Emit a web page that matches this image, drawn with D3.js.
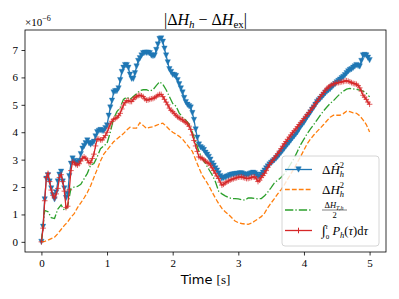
<!DOCTYPE html>
<html lang="en">
  <head>
    <meta charset="utf-8">
    <title>Energy error - D3</title>
    <style>
      body { margin: 0; background: #fff; }
      text { font-family: "Liberation Serif", "DejaVu Serif", serif; fill: #000; }
    </style>
  </head>

  <body>
    <div id="dataviz_area"></div>
  </body>
  <script src="https://d3js.org/d3.v7.min.js"></script>

  <script>
    // fine time grid [s] for the two marker series
    var timeFine = [0, 0.025, 0.05, 0.075, 0.1, 0.125, 0.15, 0.175, 0.2, 0.225,
      0.25, 0.275, 0.3, 0.325, 0.35, 0.375, 0.4, 0.425, 0.45, 0.475,
      0.5, 0.525, 0.55, 0.575, 0.6, 0.625, 0.65, 0.675, 0.7, 0.725,
      0.75, 0.775, 0.8, 0.825, 0.85, 0.875, 0.9, 0.925, 0.95, 0.975,
      1, 1.025, 1.05, 1.075, 1.1, 1.125, 1.15, 1.175, 1.2, 1.225,
      1.25, 1.275, 1.3, 1.325, 1.35, 1.375, 1.4, 1.425, 1.45, 1.475,
      1.5, 1.525, 1.55, 1.575, 1.6, 1.625, 1.65, 1.675, 1.7, 1.725,
      1.75, 1.775, 1.8, 1.825, 1.85, 1.875, 1.9, 1.925, 1.95, 1.975,
      2, 2.025, 2.05, 2.075, 2.1, 2.125, 2.15, 2.175, 2.2, 2.225,
      2.25, 2.275, 2.3, 2.325, 2.35, 2.375, 2.4, 2.425, 2.45, 2.475,
      2.5, 2.525, 2.55, 2.575, 2.6, 2.625, 2.65, 2.675, 2.7, 2.725,
      2.75, 2.775, 2.8, 2.825, 2.85, 2.875, 2.9, 2.925, 2.95, 2.975,
      3, 3.025, 3.05, 3.075, 3.1, 3.125, 3.15, 3.175, 3.2, 3.225,
      3.25, 3.275, 3.3, 3.325, 3.35, 3.375, 3.4, 3.425, 3.45, 3.475,
      3.5, 3.525, 3.55, 3.575, 3.6, 3.625, 3.65, 3.675, 3.7, 3.725,
      3.75, 3.775, 3.8, 3.825, 3.85, 3.875, 3.9, 3.925, 3.95, 3.975,
      4, 4.025, 4.05, 4.075, 4.1, 4.125, 4.15, 4.175, 4.2, 4.225,
      4.25, 4.275, 4.3, 4.325, 4.35, 4.375, 4.4, 4.425, 4.45, 4.475,
      4.5, 4.525, 4.55, 4.575, 4.6, 4.625, 4.65, 4.675, 4.7, 4.725,
      4.75, 4.775, 4.8, 4.825, 4.85, 4.875, 4.9, 4.925, 4.95, 4.975, 5]

    // coarse time grid [s] for the two plain lines
    var timeCoarse = [0, 0.05, 0.1, 0.15, 0.2, 0.25, 0.3, 0.35, 0.4, 0.45,
      0.5, 0.55, 0.6, 0.65, 0.7, 0.75, 0.8, 0.85, 0.9, 0.95,
      1, 1.05, 1.1, 1.15, 1.2, 1.25, 1.3, 1.35, 1.4, 1.45,
      1.5, 1.55, 1.6, 1.65, 1.7, 1.75, 1.8, 1.85, 1.9, 1.95,
      2, 2.05, 2.1, 2.15, 2.2, 2.25, 2.3, 2.35, 2.4, 2.45,
      2.5, 2.55, 2.6, 2.65, 2.7, 2.75, 2.8, 2.85, 2.9, 2.95,
      3, 3.05, 3.1, 3.15, 3.2, 3.25, 3.3, 3.35, 3.4, 3.45,
      3.5, 3.55, 3.6, 3.65, 3.7, 3.75, 3.8, 3.85, 3.9, 3.95,
      4, 4.05, 4.1, 4.15, 4.2, 4.25, 4.3, 4.35, 4.4, 4.45,
      4.5, 4.55, 4.6, 4.65, 4.7, 4.75, 4.8, 4.85, 4.9, 4.95, 5]

    // all values in units of 1e-6
    var dHhat2 = [0, 0.55, 1.55, 2.3, 2.43, 2.2, 1.95, 1.7, 1.55, 1.8,
      2.2, 2.45, 2.56, 2.2, 1.95, 1.6, 1.75, 2.4, 2.85, 3.04,
      2.95, 2.85, 2.9, 2.95, 3.2, 3.4, 3.5, 3.6, 3.7, 3.6,
      3.55, 3.6, 3.65, 3.85, 4.0, 4.05, 4.08, 4.05, 4.05, 4.15,
      4.25, 4.6, 4.9, 5.15, 5.45, 5.5, 5.5, 5.6, 5.9, 6.2,
      6.35, 6.45, 6.45, 6.35, 6.1, 5.95, 5.95, 6.15, 6.4, 6.6,
      6.7, 6.8, 6.88, 6.9, 6.9, 6.9, 6.88, 6.8, 6.78, 6.8,
      7.0, 7.2, 7.4, 7.42, 7.3, 7.05, 6.8, 6.55, 6.3, 6.2,
      6.1, 6.08, 6.05, 5.9, 5.75, 5.6, 5.45, 5.25, 5.1, 5.0,
      4.95, 4.9, 4.7, 4.45, 4.1, 3.8, 3.55, 3.45, 3.41, 3.35,
      3.25, 3.18, 3.1, 3.0, 2.86, 2.78, 2.68, 2.6, 2.5, 2.4,
      2.31, 2.33, 2.35, 2.38, 2.4, 2.43, 2.45, 2.46, 2.47, 2.48,
      2.48, 2.5, 2.5, 2.47, 2.45, 2.44, 2.45, 2.48, 2.5, 2.52,
      2.5, 2.45, 2.38, 2.4, 2.45, 2.52, 2.6, 2.68, 2.75, 2.82,
      2.88, 2.93, 2.98, 3.04, 3.1, 3.18, 3.25, 3.32, 3.4, 3.48,
      3.55, 3.62, 3.7, 3.78, 3.85, 3.92, 4.0, 4.1, 4.2, 4.28,
      4.35, 4.45, 4.55, 4.63, 4.72, 4.82, 4.9, 5.0, 5.1, 5.16,
      5.22, 5.28, 5.35, 5.42, 5.48, 5.53, 5.58, 5.64, 5.7, 5.76,
      5.82, 5.87, 5.92, 5.97, 6.02, 6.08, 6.15, 6.22, 6.27, 6.3,
      6.35, 6.4, 6.45, 6.42, 6.4, 6.6, 6.8, 6.82, 6.8, 6.72, 6.63]

    var intP = [0, 0.5, 1.5, 2.35, 2.5, 2.2, 1.89, 1.7, 1.6, 1.75,
      1.95, 2.35, 2.45, 2.2, 1.85, 1.25, 1.3, 1.9, 2.6, 2.92,
      2.88, 2.82, 2.8, 2.85, 2.95, 3.05, 3.1, 3.05, 2.98, 2.88,
      2.9, 3.04, 3.2, 3.5, 3.75, 3.75, 3.72, 3.72, 3.8, 3.88,
      4.0, 4.15, 4.3, 4.4, 4.47, 4.5, 4.54, 4.6, 4.69, 4.85,
      4.99, 5.08, 5.15, 5.15, 5.12, 5.12, 5.2, 5.26, 5.3, 5.34,
      5.35, 5.33, 5.3, 5.22, 5.17, 5.18, 5.2, 5.22, 5.23, 5.26,
      5.3, 5.35, 5.38, 5.38, 5.3, 5.2, 5.1, 5.0, 4.88, 4.8,
      4.75, 4.68, 4.62, 4.56, 4.52, 4.48, 4.45, 4.4, 4.36, 4.3,
      4.22, 4.1, 3.9, 3.7, 3.5, 3.3, 3.1, 3.07, 3.05, 3.0,
      2.95, 2.9, 2.86, 2.8, 2.7, 2.6, 2.5, 2.4, 2.31, 2.18,
      2.07, 2.1, 2.15, 2.19, 2.22, 2.25, 2.28, 2.3, 2.32, 2.34,
      2.36, 2.37, 2.37, 2.35, 2.33, 2.31, 2.31, 2.33, 2.35, 2.37,
      2.37, 2.3, 2.2, 2.25, 2.35, 2.42, 2.5, 2.6, 2.72, 2.82,
      2.9, 2.98, 3.06, 3.14, 3.22, 3.31, 3.4, 3.49, 3.58, 3.66,
      3.74, 3.82, 3.9, 3.98, 4.05, 4.12, 4.2, 4.28, 4.35, 4.42,
      4.5, 4.58, 4.65, 4.72, 4.8, 4.88, 4.95, 5.04, 5.12, 5.21,
      5.3, 5.38, 5.45, 5.53, 5.6, 5.65, 5.7, 5.73, 5.76, 5.78,
      5.8, 5.81, 5.82, 5.84, 5.85, 5.87, 5.88, 5.86, 5.84, 5.81,
      5.78, 5.77, 5.75, 5.7, 5.62, 5.5, 5.35, 5.28, 5.2, 5.1, 5.02]

    var dH2 = [0, 0.02, 0.06, 0.12, 0.17, 0.3, 0.45, 0.6, 0.72, 0.9,
      1.03, 1.25, 1.42, 1.6, 1.8, 2.05, 2.35, 2.65, 2.95, 3.2,
      3.35, 3.5, 3.65, 3.75, 3.85, 3.95, 4.08, 4.18, 4.15, 4.15,
      4.35, 4.25, 4.14, 4.18, 4.2, 4.25, 4.3, 4.33, 4.22, 4.1,
      4.0, 3.93, 3.85, 3.75, 3.6, 3.45, 3.3, 3.0, 2.7, 2.43,
      2.25, 2.05, 1.82, 1.6, 1.4, 1.22, 1.1, 1.0, 0.88, 0.76,
      0.7, 0.67, 0.65, 0.64, 0.68, 0.76, 0.84, 0.92, 1.05, 1.25,
      1.42, 1.58, 1.75, 1.9, 2.08, 2.28, 2.48, 2.68, 2.9, 3.12,
      3.35, 3.58, 3.75, 3.9, 4.03, 4.15, 4.28, 4.42, 4.55, 4.62,
      4.62, 4.62, 4.68, 4.77, 4.75, 4.71, 4.69, 4.6, 4.45, 4.28, 4.01]

    var dHT_half = [0, 1.15, 1.1, 0.88, 0.85, 1.2, 1.35, 1.15, 1.3, 1.95,
      2.0, 2.02, 2.1, 2.3, 2.5, 2.8, 2.86, 3.1, 3.4, 3.5,
      3.6, 4.0, 4.5, 4.75, 4.9, 5.2, 5.28, 5.2, 5.3, 5.4,
      5.52, 5.55, 5.55, 5.5, 5.55, 5.7, 5.84, 5.75, 5.55, 5.3,
      5.05, 4.95, 4.7, 4.55, 4.44, 4.3, 4.0, 3.65, 3.3, 3.04,
      2.85, 2.65, 2.45, 2.2, 1.85, 1.75, 1.68, 1.62, 1.58, 1.58,
      1.57, 1.54, 1.52, 1.6, 1.6, 1.58, 1.57, 1.58, 1.68, 1.82,
      1.98, 2.15, 2.25, 2.35, 2.48, 2.65, 2.85, 3.05, 3.3, 3.55,
      3.75, 3.95, 4.12, 4.28, 4.45, 4.62, 4.78, 4.92, 5.05, 5.15,
      5.28, 5.4, 5.5, 5.57, 5.6, 5.58, 5.56, 5.54, 5.5, 5.42, 5.29]

    var xTicks = [0, 1, 2, 3, 4, 5]
    var yTicks = [0, 1, 2, 3, 4, 5, 6, 7]

    var W = 399, H = 299,
      margins = {top: 30, right: 13, bottom: 47, left: 25},
      width = W - margins.left - margins.right,
      height = H - margins.top - margins.bottom

    var root = d3.select("#dataviz_area")
      .append("svg")
        .attr("width", W)
        .attr("height", H)

    var svg = root.append("g")
      .attr("transform", "translate(" + margins.left + "," + margins.top + ")")

    var x = d3.scaleLinear()
      .domain([-0.25, 5.25])
      .range([0, width])

    var y = d3.scaleLinear()
      .domain([-0.37, 7.73])
      .range([height, 0])

    // axes
    var xAxis = svg.append("g")
      .attr("transform", "translate(0," + height + ")")
      .call(d3.axisBottom(x).tickValues(xTicks).tickSize(3.5).tickPadding(3.5).tickFormat(d3.format("d")))
    var yAxis = svg.append("g")
      .call(d3.axisLeft(y).tickValues(yTicks).tickSize(3.5).tickPadding(3.5).tickFormat(d3.format("d")))

    ;[xAxis, yAxis].forEach(function(a) {
      a.select(".domain").remove()
      a.selectAll("line").attr("stroke", "#000").attr("stroke-width", 0.8)
      a.selectAll("text")
        .style("font-family", "'Liberation Serif', serif")
        .style("font-size", "11px")
        .attr("fill", "#000")
    })

    var series = [
      {values: dHhat2, time: timeFine, color: "#1f77b4", dash: null, marker: "tri"},
      {values: dH2, time: timeCoarse, color: "#ff7f0e", dash: "4.8,2.1", marker: null},
      {values: dHT_half, time: timeCoarse, color: "#2ca02c", dash: "8.3,2.1,1.3,2.1", marker: null},
      {values: intP, time: timeFine, color: "#d62728", dash: null, marker: "plus"}
    ]

    var tri = "M0,2.7L-2.7,-2.7L2.7,-2.7Z"
    var plus = "M-2.8,0H2.8M0,-2.8V2.8"

    var plot = svg.append("g")

    series.forEach(function(s) {
      var line = d3.line()
        .x(function(d, i) { return x(s.time[i]) })
        .y(function(d) { return y(d) })

      plot.append("path")
        .datum(s.values)
        .attr("d", line)
        .attr("fill", "none")
        .attr("stroke", s.color)
        .attr("stroke-width", 1.3)
        .attr("stroke-dasharray", s.dash)

      if (s.marker) {
        plot.append("g")
          .selectAll("path")
          .data(s.values)
          .join("path")
            .attr("transform", function(d, i) { return "translate(" + x(s.time[i]) + "," + y(d) + ")" })
            .attr("d", s.marker == "tri" ? tri : plus)
            .attr("fill", s.marker == "tri" ? s.color : "none")
            .attr("stroke", s.color)
            .attr("stroke-opacity", s.marker == "tri" ? 0.6 : 0.75)
            .attr("stroke-width", s.marker == "tri" ? 0.6 : 1)
      }
    })

    // frame
    svg.append("rect")
      .attr("width", width)
      .attr("height", height)
      .attr("fill", "none")
      .attr("stroke", "#000")
      .attr("stroke-width", 0.8)

    // title
    var title = root.append("text")
      .attr("x", margins.left + width / 2)
      .attr("y", 25)
      .attr("text-anchor", "middle")
      .style("font-size", "16px")
    title.append("tspan").text("|Δ")
    title.append("tspan").text("H").style("font-style", "italic")
    title.append("tspan").text("h").style("font-style", "italic").style("font-size", "11px").attr("dy", 3)
    title.append("tspan").text(" − Δ").attr("dy", -3)
    title.append("tspan").text("H").style("font-style", "italic")
    title.append("tspan").text("ex").style("font-size", "11px").attr("dy", 3)
    title.append("tspan").text("|").attr("dy", -3)

    // offset text
    var off = root.append("text")
      .attr("x", margins.left)
      .attr("y", 26)
      .style("font-size", "11px")
    off.append("tspan").text("×10")
    off.append("tspan").text("−6").style("font-size", "8px").attr("dy", -5)

    // x label
    var xl = root.append("text")
      .attr("x", margins.left + width / 2)
      .attr("y", 284)
      .attr("text-anchor", "middle")
      .style("font-size", "13px")
    xl.append("tspan").text("Time ").style("font-family", "'DejaVu Sans', sans-serif")
    xl.append("tspan").text("[s]")

    // legend
    var lg = root.append("g").attr("transform", "translate(282,156)")
    lg.append("rect")
      .attr("width", 97)
      .attr("height", 90)
      .attr("rx", 3)
      .attr("fill", "#fff")
      .attr("fill-opacity", 0.8)
      .attr("stroke", "#cccccc")
      .attr("stroke-width", 0.8)

    var rowY = [13.5, 33.5, 54, 74.5]
    series.forEach(function(s, i) {
      lg.append("line")
        .attr("x1", 3).attr("x2", 30)
        .attr("y1", rowY[i]).attr("y2", rowY[i])
        .attr("stroke", s.color)
        .attr("stroke-width", 1.3)
        .attr("stroke-dasharray", s.dash)
      if (s.marker) {
        lg.append("path")
          .attr("transform", "translate(16.5," + rowY[i] + ")")
          .attr("d", s.marker == "tri" ? tri : plus)
          .attr("fill", s.marker == "tri" ? s.color : "none")
          .attr("stroke", s.color)
          .attr("stroke-width", s.marker == "tri" ? 0.5 : 1)
      }
    })

    var tx = 40
    var t1 = lg.append("text").attr("x", tx).attr("y", rowY[0] + 4).style("font-size", "13px")
    t1.append("tspan").text("Δ")
    t1.append("tspan").text("Ĥ").style("font-style", "italic")
    t1.append("tspan").text("2").style("font-size", "8.5px").attr("dy", -5.5)
    t1.append("tspan").text("h").style("font-style", "italic").style("font-size", "8.5px").attr("dx", -4.3).attr("dy", 8.5)

    var t2 = lg.append("text").attr("x", tx).attr("y", rowY[1] + 4).style("font-size", "13px")
    t2.append("tspan").text("Δ")
    t2.append("tspan").text("H").style("font-style", "italic")
    t2.append("tspan").text("2").style("font-size", "8.5px").attr("dy", -5.5)
    t2.append("tspan").text("h").style("font-style", "italic").style("font-size", "8.5px").attr("dx", -4.3).attr("dy", 8.5)

    var t3 = lg.append("text").attr("x", tx + 12).attr("y", rowY[2] - 2).attr("text-anchor", "middle").style("font-size", "8.5px")
    t3.append("tspan").text("Δ")
    t3.append("tspan").text("H").style("font-style", "italic")
    t3.append("tspan").text("T,h").style("font-style", "italic").style("font-size", "6px").attr("dy", 1.5)
    lg.append("line")
      .attr("x1", tx).attr("x2", tx + 25)
      .attr("y1", rowY[2]).attr("y2", rowY[2])
      .attr("stroke", "#000").attr("stroke-width", 0.5)
    lg.append("text").attr("x", tx + 12.5).attr("y", rowY[2] + 7.5).attr("text-anchor", "middle")
      .style("font-size", "8.5px").text("2")

    var t4 = lg.append("text").attr("x", tx).attr("y", rowY[3] + 4).style("font-size", "12.5px")
    t4.append("tspan").text("∫").style("font-size", "14px")
    t4.append("tspan").text("t").style("font-style", "italic").style("font-size", "7px").attr("dy", -6)
    t4.append("tspan").text("0").style("font-size", "7px").attr("dx", -2).attr("dy", 10)
    t4.append("tspan").text(" P").style("font-style", "italic").attr("dy", -4)
    t4.append("tspan").text("h").style("font-style", "italic").style("font-size", "8.5px").attr("dy", 3)
    t4.append("tspan").text("(").attr("dy", -3)
    t4.append("tspan").text("τ").style("font-style", "italic")
    t4.append("tspan").text(")d")
    t4.append("tspan").text("τ").style("font-style", "italic")
  </script>
</html>
